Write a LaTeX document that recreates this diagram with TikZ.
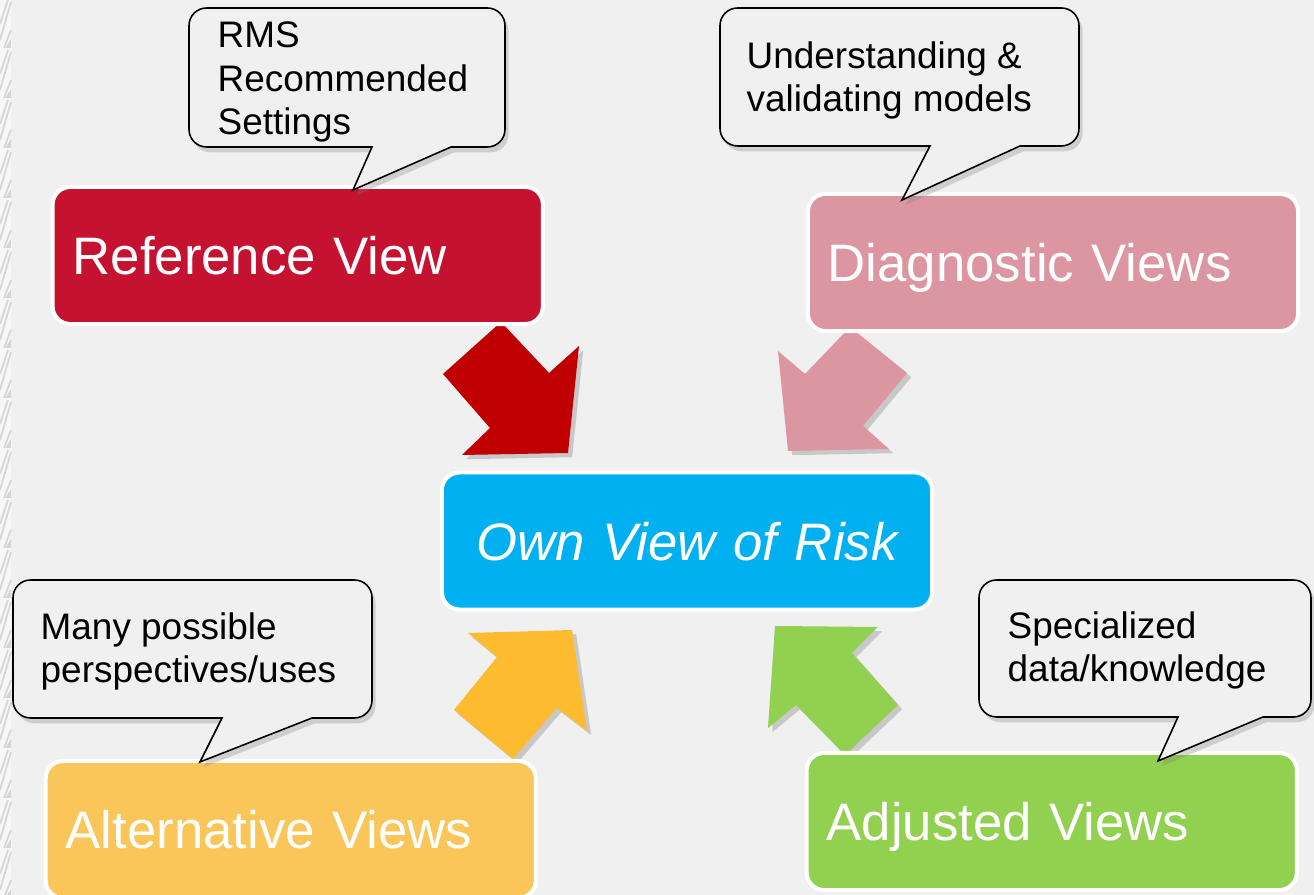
\documentclass[tikz,border=0pt]{standalone}
\usepackage{fontspec}
\setmainfont{Liberation Sans}
\usepackage{tikz}
\usetikzlibrary{shadows}
\definecolor{backgray}{RGB}{240,240,240}
\definecolor{stripgray}{RGB}{247,247,247}
\definecolor{hatchgray}{RGB}{214,214,214}
\definecolor{refred}{RGB}{196,18,48}
\definecolor{refarrow}{RGB}{192,0,0}
\definecolor{diagpink}{RGB}{219,150,161}
\definecolor{ownblue}{RGB}{0,176,240}
\definecolor{altyellow}{RGB}{250,198,90}
\definecolor{altarrow}{RGB}{253,187,48}
\definecolor{adjgreen}{RGB}{146,208,80}
\tikzset{
  viewbox/.style={rectangle, rounded corners=5pt, draw=white, line width=1.15pt,
    text=white, minimum height=1.37cm, text width=4.5cm, inner xsep=0.2cm,
    align=left, font=\fontsize{15}{18}\selectfont, text height=11pt, text depth=0pt},
  bubble/.style={draw=black, line width=0.45pt, fill=backgray,
    drop shadow={shadow xshift=1pt, shadow yshift=-1.5pt, opacity=0.3}},
  note/.style={anchor=base west, inner sep=0pt, align=left,
    font=\fontsize{10.5}{12.5}\selectfont},
  bigarrow/.style={drop shadow={shadow xshift=1.2pt, shadow yshift=-1.2pt, opacity=0.35}},
  hatch/.style={hatchgray, line width=0.5pt},
}

\begin{document}
\begin{tikzpicture}[x=0.01cm, y=-0.01cm]
    \clip (0,0) rectangle (1314,895);
    \fill[backgray] (0,0) rectangle (1314,895);
    \fill[stripgray] (0,0) rectangle (11,895);
    \foreach \y in {0,50,...,900}{
      \draw[hatch] (0,\y+40) -- (11,\y+2);
      \draw[hatch] (0,\y+24) -- (8,\y+0);
      \draw[hatch] (4,\y+48) -- (11,\y+30);
      \draw[hatch] (7,\y+47) -- (10,\y+42) -- (10,\y+47) -- cycle;
    }

    % block arrows into the centre
    \fill[refarrow, bigarrow] (501,322) -- (549,373) -- (579,346) -- (568,453) -- (462,455) -- (490,428) -- (443,374) -- cycle;
    \fill[diagpink, bigarrow] (850,327) -- (907,373) -- (863,426) -- (889,449) -- (788,451) -- (778,351) -- (805,374) -- cycle;
    \fill[altarrow, bigarrow] (468,633) -- (572,630) -- (587,731) -- (557,708) -- (513,759) -- (454,710) -- (497,657) -- cycle;
    \fill[adjgreen, bigarrow] (775,626) -- (878,627) -- (852,653) -- (898,705) -- (845,755) -- (796,705) -- (768,728) -- cycle;

    \draw node at (297.75,255.5)[name=refview, viewbox, fill=refred]{Reference View};
    \draw node at (1053,262.5)[name=diagview, viewbox, fill=diagpink]{Diagnostic Views};
    \draw node at (687,541)[name=ownview, viewbox, fill=ownblue, align=center,
      font=\fontsize{15}{18}\selectfont\itshape]{Own View of Risk};
    \draw node at (290.75,829.5)[name=altview, viewbox, fill=altyellow]{Alternative Views};
    \draw node at (1051.75,821.5)[name=adjview, viewbox, fill=adjgreen]{Adjusted Views};

    % speech bubbles
    \draw[bubble] (353,190) -- (372,147) [rounded corners=5pt] -- (189,147) -- (189,8) -- (505,8) -- (505,147) [sharp corners] -- (451,147) -- cycle;
    \draw[bubble] (902,200) -- (930,146) [rounded corners=5pt] -- (720,146) -- (720,8) -- (1079,8) -- (1079,146) [sharp corners] -- (1020,146) -- cycle;
    \draw[bubble] (200,762) -- (222,718) [rounded corners=5pt] -- (13,718) -- (13,580) -- (372,580) -- (372,718) [sharp corners] -- (312,718) -- cycle;
    \draw[bubble] (1158,761) -- (1178,717) [rounded corners=5pt] -- (979,717) -- (979,580) -- (1311,580) -- (1311,717) [sharp corners] -- (1263,717) -- cycle;

    % notes sit on the baseline of their last line
    \draw node at (217,135)[name=rmsnote, note]{RMS\\Recommended\\Settings};
    \draw node at (746,112)[name=diagnote, note]{Understanding \&\\validating models};
    \draw node at (40,683)[name=altnote, note]{Many possible\\perspectives/uses};
    \draw node at (1007,682)[name=adjnote, note]{Specialized\\data/knowledge};
\end{tikzpicture}
\end{document}
